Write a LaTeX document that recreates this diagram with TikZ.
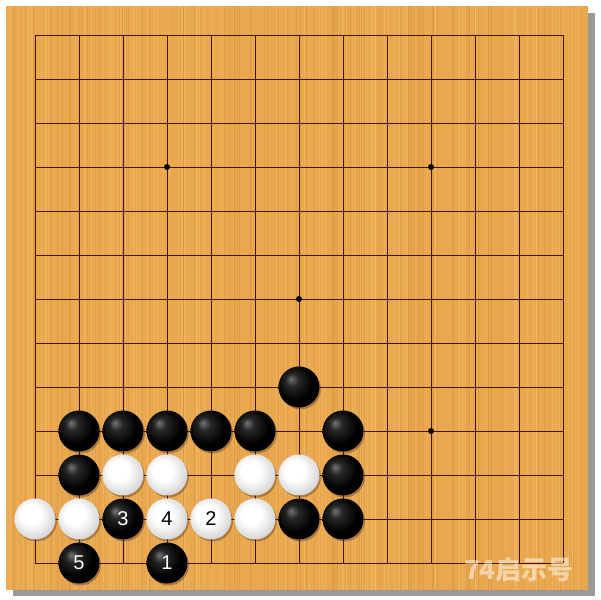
\documentclass[tikz,border=0pt]{standalone}
\usepackage{fontspec}
\setmainfont{Liberation Sans}
\newfontfamily\cjkfont{Noto Sans CJK SC}
\usetikzlibrary{shadows}
\definecolor{wood}{RGB}{233,168,80}
\definecolor{woodlight}{RGB}{242,188,108}
\definecolor{wooddark}{RGB}{216,148,64}
\definecolor{gridline}{RGB}{70,16,16}
\pgfdeclareradialshading{blackstone}{\pgfpoint{-10bp}{10bp}}{color(0bp)=(black!55);color(8bp)=(black!85);color(22bp)=(black);color(50bp)=(black)}
\pgfdeclareradialshading{whitestone}{\pgfpoint{-7bp}{7bp}}{color(0bp)=(white);color(12bp)=(white);color(26bp)=(black!14);color(38bp)=(black!32);color(50bp)=(black!55)}

\begin{document}
\begin{tikzpicture}[x=44pt,y=-44pt,
    stone/.style={circle,minimum size=41pt,inner sep=0pt,font=\fontsize{20}{24}\selectfont,
        drop shadow={shadow xshift=1.5pt,shadow yshift=-2pt,opacity=0.35,fill=black!70!brown}},
    bstone/.style={stone,shade,shading=blackstone,text=white},
    wstone/.style={stone,shade,shading=whitestone,text=black},
    star/.style={circle,fill=black,inner sep=0pt,minimum size=6pt}]
    \useasboundingbox[fill=white] (-0.795,-0.795) rectangle (12.841,12.841);

    % Board and its shadow
    \fill[black!40] (-0.5,-0.5) rectangle (12.73,12.75);
    \fill[wood] (-0.659,-0.659) rectangle (12.568,12.614);

    % Wood grain
    \pgfmathsetseed{11}
    \foreach \k in {1,...,140} {
        \pgfmathsetmacro\gx{-0.65+13.2*rnd}
        \draw[woodlight,opacity=0.45,line width=0.7pt] (\gx,-0.659) -- (\gx,12.614);
    }
    \foreach \k in {1,...,90} {
        \pgfmathsetmacro\gx{-0.65+13.2*rnd}
        \draw[wooddark,opacity=0.5,line width=0.5pt] (\gx,-0.659) -- (\gx,12.614);
    }

    % Grid
    \foreach \i in {0,...,12} {
        \draw[gridline,line width=0.9pt] (\i,0) -- (\i,12);
        \draw[gridline,line width=0.9pt] (0,\i) -- (12,\i);
    }

    % Star points
    \foreach \x/\y in {3/3,9/3,6/6,3/9,9/9}
        \node[star] (p\x-\y) at (\x,\y) {};

    % Black stones
    \foreach \x/\y in {6/8,1/9,2/9,3/9,4/9,5/9,7/9,1/10,7/10,6/11,7/11}
        \node[bstone] (b\x-\y) at (\x,\y) {};

    % White stones
    \foreach \x/\y in {2/10,3/10,5/10,6/10,0/11,1/11,5/11}
        \node[wstone] (w\x-\y) at (\x,\y) {};

    % Numbered moves
    \node[bstone] (m1) at (3,12) {1};
    \node[wstone] (m2) at (4,11) {2};
    \node[bstone] (m3) at (2,11) {3};
    \node[wstone] (m4) at (3,11) {4};
    \node[bstone] (m5) at (1,12) {5};

    % Watermark
    \node[text=white,opacity=0.5,font=\cjkfont\bfseries\fontsize{26}{30}\selectfont] (mark) at (11.0,12.14) {74启示号};
\end{tikzpicture}
\end{document}
